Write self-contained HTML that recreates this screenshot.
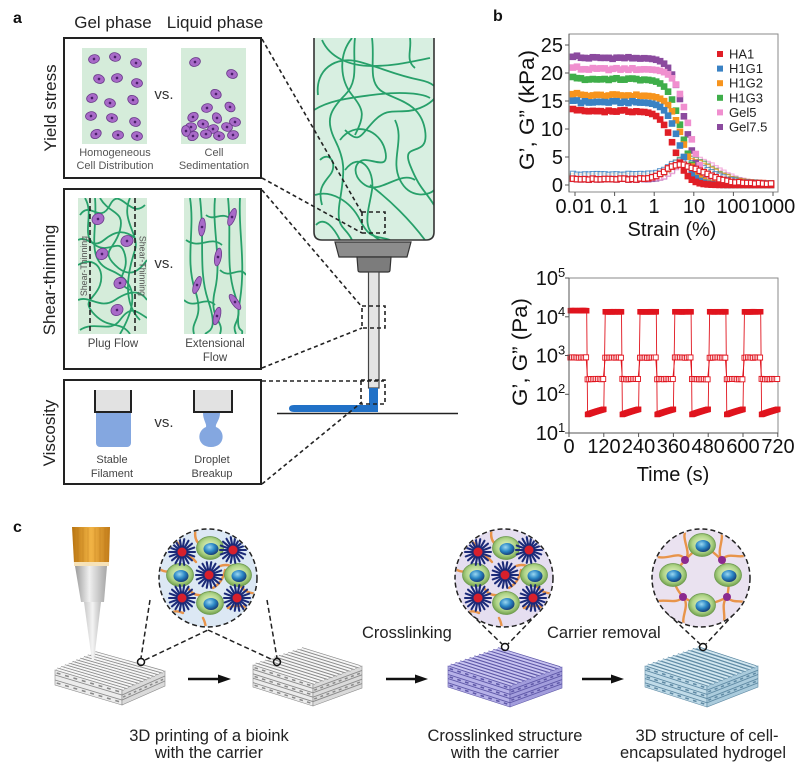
<!DOCTYPE html>
<html><head><meta charset="utf-8">
<style>
html,body{margin:0;padding:0;background:#fff;}
svg{display:block;font-family:"Liberation Sans",Arial,sans-serif;}
</style></head><body>
<svg id="s" width="803" height="768" viewBox="0 0 803 768" xmlns="http://www.w3.org/2000/svg">
<defs>
 <radialGradient id="cellG" cx="50%" cy="45%" r="55%"><stop offset="0" stop-color="#eef7cf"/><stop offset="0.65" stop-color="#afd488"/><stop offset="1" stop-color="#6f9f4a"/></radialGradient>
 <radialGradient id="nucG" cx="40%" cy="35%" r="65%"><stop offset="0" stop-color="#9ad8f2"/><stop offset="0.55" stop-color="#2a86c4"/><stop offset="1" stop-color="#173f7a"/></radialGradient>
 <linearGradient id="orangeG" x1="0" x2="1"><stop offset="0" stop-color="#b87410"/><stop offset="0.5" stop-color="#f2b445"/><stop offset="1" stop-color="#c07a18"/></linearGradient>
 <linearGradient id="greyG" x1="0" x2="1"><stop offset="0" stop-color="#9a9a9a"/><stop offset="0.45" stop-color="#f0f0f0"/><stop offset="1" stop-color="#a5a5a5"/></linearGradient>
 <linearGradient id="tipG" x1="0" x2="1"><stop offset="0" stop-color="#c8c8c8"/><stop offset="0.5" stop-color="#f4f4f4"/><stop offset="1" stop-color="#bdbdbd"/></linearGradient>
 <clipPath id="cc1"><circle cx="208" cy="578" r="48"/></clipPath>
 <clipPath id="cc2"><circle cx="504" cy="578" r="48"/></clipPath>
 <clipPath id="cc3"><circle cx="701" cy="578" r="48"/></clipPath>
 <clipPath id="syr"><path d="M314,38 L434,38 L434,232 Q434,240 426,240 L322,240 Q314,240 314,232 Z"/></clipPath>
 <clipPath id="b2l"><rect x="78" y="198" width="69" height="136"/></clipPath>
 <clipPath id="b2r"><rect x="184" y="198" width="62" height="136"/></clipPath>
</defs>
<rect width="803" height="768" fill="#fff"/>

<!-- ============ PANEL A ============ -->
<text x="13" y="23" font-size="16" font-weight="bold" fill="#111">a</text>
<text x="113" y="28" font-size="17" text-anchor="middle" fill="#222">Gel phase</text>
<text x="215" y="28" font-size="17" text-anchor="middle" fill="#222">Liquid phase</text>

<text transform="translate(56,108) rotate(-90)" font-size="17" text-anchor="middle" fill="#222">Yield stress</text>
<text transform="translate(55,280) rotate(-90)" font-size="17" text-anchor="middle" fill="#222">Shear-thinning</text>
<text transform="translate(55,433) rotate(-90)" font-size="17" text-anchor="middle" fill="#222">Viscosity</text>

<!-- box 1 -->
<rect x="64" y="38" width="197" height="140" fill="#fff" stroke="#222" stroke-width="2"/>
<rect x="82" y="48" width="65" height="96" fill="#d5ecda"/>
<rect x="181" y="48" width="65" height="96" fill="#d5ecda"/>
<g id="cells1"></g>
<text x="164" y="99" font-size="15" text-anchor="middle" fill="#333">vs.</text>
<text x="115" y="156" font-size="11" text-anchor="middle" fill="#555">Homogeneous</text>
<text x="115" y="169" font-size="11" text-anchor="middle" fill="#555">Cell Distribution</text>
<text x="214" y="156" font-size="11" text-anchor="middle" fill="#555">Cell</text>
<text x="214" y="169" font-size="11" text-anchor="middle" fill="#555">Sedimentation</text>

<!-- box 2 -->
<rect x="64" y="189" width="197" height="180" fill="#fff" stroke="#222" stroke-width="2"/>
<rect x="78" y="198" width="69" height="136" fill="#d5ecda"/>
<rect x="184" y="198" width="62" height="136" fill="#d5ecda"/>
<g clip-path="url(#b2l)" fill="none" stroke="#27a06a" stroke-width="1.8">
 <path d="M80,215 C90,200 100,225 110,205 S130,220 145,205"/>
 <path d="M85,198 C95,215 80,235 95,245 S120,235 125,255 S110,280 130,290"/>
 <path d="M78,265 C95,255 105,270 100,285 S80,300 95,315 S120,320 130,334"/>
 <path d="M100,198 C110,215 125,210 120,230 S100,250 115,265 S140,270 147,260"/>
 <path d="M78,300 C90,295 100,310 115,300 S140,290 147,300"/>
 <path d="M130,198 C120,220 140,235 135,250 S120,300 140,320"/>
 <path d="M80,330 C95,320 110,334 120,320 S135,310 147,318"/>
 <path d="M95,198 C98,230 85,260 110,270 S140,300 120,334"/>
 <path d="M78,240 C88,235 92,250 104,240 S125,230 135,238"/>
</g>
<g clip-path="url(#b2r)" fill="none" stroke="#27a06a" stroke-width="1.8">
 <path d="M190,198 C195,230 185,260 195,290 S190,320 194,334"/>
 <path d="M200,198 C205,240 198,270 208,300 S210,330 205,334"/>
 <path d="M215,198 C212,230 222,260 215,290 S225,320 220,334"/>
 <path d="M228,198 C232,235 225,265 235,295 S230,320 236,334"/>
 <path d="M240,198 C238,230 246,260 240,300 S244,325 242,334"/>
 <path d="M186,240 C200,250 210,235 222,245"/>
 <path d="M220,270 C230,280 240,265 246,275"/>
 <path d="M184,300 C195,310 205,295 215,305"/>
 <path d="M206,215 C214,222 222,210 232,220"/>
</g>
<line x1="90" y1="198" x2="90" y2="334" stroke="#222" stroke-width="1.6" stroke-dasharray="5,3"/>
<line x1="135" y1="198" x2="135" y2="334" stroke="#222" stroke-width="1.6" stroke-dasharray="5,3"/>
<g id="cells2"></g>
<text transform="translate(87,266) rotate(-90)" font-size="8.8" text-anchor="middle" fill="#555">Shear-Thinning</text>
<text transform="translate(139.5,266) rotate(90)" font-size="8.8" text-anchor="middle" fill="#555">Shear-Thinning</text>
<text x="164" y="268" font-size="15" text-anchor="middle" fill="#333">vs.</text>
<text x="113" y="347" font-size="11.5" text-anchor="middle" fill="#444">Plug Flow</text>
<text x="215" y="347" font-size="11.5" text-anchor="middle" fill="#444">Extensional</text>
<text x="215" y="361" font-size="11.5" text-anchor="middle" fill="#444">Flow</text>

<!-- box 3 -->
<rect x="64" y="380" width="197" height="104" fill="#fff" stroke="#222" stroke-width="2"/>
<rect x="96" y="411" width="35" height="36" rx="4" fill="#84a7e0"/>
<rect x="96" y="411" width="35" height="8" fill="#84a7e0"/>
<rect x="95" y="390" width="36" height="22" fill="#e2e2e2"/>
<path d="M95,390 L95,412 L131,412 L131,390" fill="none" stroke="#222" stroke-width="2"/>
<path d="M203,413 L220,413 C220,420 215,424 216,427 C226,431 225,447 211,447 C197,447 196,431 206,427 C207,424 203,420 203,413 Z" fill="#84a7e0"/>
<rect x="194" y="390" width="38" height="22" fill="#e2e2e2"/>
<path d="M194,390 L194,412 L232,412 L232,390" fill="none" stroke="#222" stroke-width="2"/>
<text x="164" y="427" font-size="15" text-anchor="middle" fill="#333">vs.</text>
<text x="112" y="463" font-size="11" text-anchor="middle" fill="#444">Stable</text>
<text x="112" y="477" font-size="11" text-anchor="middle" fill="#444">Filament</text>
<text x="212" y="463" font-size="11" text-anchor="middle" fill="#444">Droplet</text>
<text x="212" y="477" font-size="11" text-anchor="middle" fill="#444">Breakup</text>

<!-- syringe -->
<path d="M314,38 L434,38 L434,232 Q434,240 426,240 L322,240 Q314,240 314,232 Z" fill="#d8efe1"/>
<g clip-path="url(#syr)" fill="none" stroke="#27a06a" stroke-width="1.8">
 <path d="M322,40 C330,58 350,66 372,66 S410,62 430,58"/>
 <path d="M352,38 C338,55 340,80 352,95 S365,115 355,135"/>
 <path d="M318,95 C315,70 335,55 360,62 S395,75 420,80 S440,100 420,108 S390,105 375,120 S360,145 345,130"/>
 <path d="M314,110 C330,100 350,98 372,95 S420,92 430,98"/>
 <path d="M372,38 C375,60 368,80 380,90 S420,100 425,130 S400,140 410,165 S425,190 434,205"/>
 <path d="M355,38 C352,60 360,80 345,95 S325,120 335,140 S345,170 340,200 S345,225 352,240"/>
 <path d="M340,140 C355,120 380,130 385,150 S375,160 365,160 S350,175 365,185 S400,170 415,180"/>
 <path d="M345,170 C360,150 375,170 372,190 S360,230 380,240"/>
 <path d="M315,195 C330,190 350,200 360,220 S375,235 390,240"/>
 <path d="M370,185 C390,200 410,220 425,240"/>
 <path d="M316,225 C325,215 335,230 340,240"/>
 <path d="M395,120 C405,140 390,160 400,180 S430,195 434,190"/>
 <path d="M410,38 C412,50 405,60 415,68"/>
 <path d="M320,160 C330,150 338,165 330,175 S318,190 322,205"/>
</g>
<path d="M314,38 L314,232 Q314,240 322,240 L426,240 Q434,240 434,232 L434,38" fill="none" stroke="#333" stroke-width="1.6"/>
<polygon points="335,242 411,242 407,257 339,257" fill="#8c8c8c" stroke="#333" stroke-width="1.2"/>
<path d="M357,257 L391,257 L390,270 Q390,272 388,272 L360,272 Q358,272 358,270 Z" fill="#7c7c7c" stroke="#333" stroke-width="1.2"/>
<rect x="368.5" y="272" width="10.5" height="116" fill="#e4e4e4" stroke="#444" stroke-width="1.2"/>
<line x1="277" y1="413.5" x2="458" y2="413.5" stroke="#222" stroke-width="1.6"/>
<path d="M369,388 L378,388 L378,412 L294,412 Q289,412 289,408.5 Q289,405 294,405 L369,405 Z" fill="#2171c7"/>

<!-- dashed zoom boxes/lines -->
<g fill="none" stroke="#222" stroke-width="1.6" stroke-dasharray="4,3">
 <rect x="362" y="212" width="23" height="21"/>
 <rect x="362" y="306" width="23" height="22"/>
 <rect x="361" y="380" width="24" height="24"/>
 <line x1="262" y1="39" x2="362" y2="213"/>
 <line x1="262" y1="178" x2="362" y2="233"/>
 <line x1="262" y1="190" x2="362" y2="307"/>
 <line x1="262" y1="368" x2="362" y2="328"/>
 <line x1="262" y1="381" x2="384" y2="381"/>
 <line x1="262" y1="484" x2="362" y2="402"/>
</g>

<!-- ============ PANEL B ============ -->
<text x="493" y="21" font-size="16" font-weight="bold" fill="#111">b</text>
<rect x="569" y="34" width="209" height="158" fill="#fff" stroke="#8a8a8a" stroke-width="1"/>
<g id="ch1"></g>
<line x1="569" y1="34" x2="569" y2="192" stroke="#555" stroke-width="1"/>
<g stroke="#555" stroke-width="1">
 <line x1="565" y1="185" x2="569" y2="185"/><line x1="565" y1="157" x2="569" y2="157"/>
 <line x1="565" y1="129" x2="569" y2="129"/><line x1="565" y1="101" x2="569" y2="101"/>
 <line x1="565" y1="73" x2="569" y2="73"/><line x1="565" y1="45" x2="569" y2="45"/>
 <line x1="575" y1="192" x2="575" y2="196"/><line x1="614.6" y1="192" x2="614.6" y2="196"/>
 <line x1="654.2" y1="192" x2="654.2" y2="196"/><line x1="693.8" y1="192" x2="693.8" y2="196"/>
 <line x1="733.4" y1="192" x2="733.4" y2="196"/><line x1="773" y1="192" x2="773" y2="196"/>
</g>
<g font-size="20" fill="#111" text-anchor="end">
 <text x="563" y="192">0</text><text x="563" y="164">5</text><text x="563" y="136">10</text>
 <text x="563" y="108">15</text><text x="563" y="80">20</text><text x="563" y="52">25</text>
</g>
<g font-size="20" fill="#111" text-anchor="middle">
 <text x="575" y="213">0.01</text><text x="614" y="213">0.1</text><text x="654" y="213">1</text>
 <text x="694" y="213">10</text><text x="733" y="213">100</text><text x="773" y="213">1000</text>
</g>
<text x="672" y="236" font-size="20" text-anchor="middle" fill="#111">Strain (%)</text>
<text transform="translate(534,110) rotate(-90)" font-size="21" text-anchor="middle" fill="#111" textLength="120" lengthAdjust="spacingAndGlyphs">G’, G” (kPa)</text>
<g font-size="13" fill="#222">
 <rect x="717" y="51" width="6" height="6" fill="#e01e26"/><text x="729" y="58.5">HA1</text>
 <rect x="717" y="65.6" width="6" height="6" fill="#3a82c4"/><text x="729" y="73.1">H1G1</text>
 <rect x="717" y="80.2" width="6" height="6" fill="#f7941d"/><text x="729" y="87.7">H1G2</text>
 <rect x="717" y="94.8" width="6" height="6" fill="#3fae4a"/><text x="729" y="102.3">H1G3</text>
 <rect x="717" y="109.4" width="6" height="6" fill="#f08fcf"/><text x="729" y="116.9">Gel5</text>
 <rect x="717" y="124" width="6" height="6" fill="#8b4a9e"/><text x="729" y="131.5">Gel7.5</text>
</g>

<rect x="569" y="278" width="209" height="155" fill="#fff" stroke="#8a8a8a" stroke-width="1"/>
<g id="ch2"></g>
<line x1="569" y1="278" x2="569" y2="433" stroke="#555" stroke-width="1"/>
<line x1="569" y1="433" x2="778" y2="433" stroke="#555" stroke-width="1"/>
<g stroke="#555" stroke-width="1">
 <line x1="565" y1="278" x2="569" y2="278"/><line x1="565" y1="316.8" x2="569" y2="316.8"/>
 <line x1="565" y1="355.5" x2="569" y2="355.5"/><line x1="565" y1="394.3" x2="569" y2="394.3"/>
 <line x1="565" y1="433" x2="569" y2="433"/>
 <line x1="569" y1="433" x2="569" y2="437"/><line x1="603.8" y1="433" x2="603.8" y2="437"/>
 <line x1="638.6" y1="433" x2="638.6" y2="437"/><line x1="673.4" y1="433" x2="673.4" y2="437"/>
 <line x1="708.2" y1="433" x2="708.2" y2="437"/><line x1="743" y1="433" x2="743" y2="437"/>
 <line x1="777.8" y1="433" x2="777.8" y2="437"/>
</g>
<g font-size="20" fill="#111" text-anchor="end">
 <text x="558" y="285">10</text><text x="558" y="324">10</text><text x="558" y="362.5">10</text>
 <text x="558" y="401">10</text><text x="558" y="440">10</text>
</g>
<g font-size="13" fill="#111">
 <text x="558" y="277">5</text><text x="558" y="316">4</text><text x="558" y="354.5">3</text>
 <text x="558" y="393">2</text><text x="558" y="432">1</text>
</g>
<g font-size="20" fill="#111" text-anchor="middle">
 <text x="569" y="453">0</text><text x="604" y="453">120</text><text x="638.6" y="453">240</text>
 <text x="673.4" y="453">360</text><text x="708.2" y="453">480</text><text x="743" y="453">600</text>
 <text x="778" y="453">720</text>
</g>
<text x="673" y="481" font-size="20" text-anchor="middle" fill="#111">Time (s)</text>
<text transform="translate(527,352) rotate(-90)" font-size="21" text-anchor="middle" fill="#111" textLength="108" lengthAdjust="spacingAndGlyphs">G’, G” (Pa)</text>

<!-- ============ PANEL C ============ -->
<text x="13" y="532" font-size="16" font-weight="bold" fill="#111">c</text>
<g id="scaf"></g>
<!-- nozzle -->
<path d="M72,527 L110,527 L109,563 L74,563 Z" fill="url(#orangeG)"/>
<g stroke="#a8650c" stroke-width="0.5" opacity="0.5">
 <line x1="78" y1="528" x2="78" y2="562"/><line x1="83" y1="528" x2="83" y2="562"/><line x1="88" y1="528" x2="88" y2="562"/>
 <line x1="95" y1="528" x2="95" y2="562"/><line x1="100" y1="528" x2="100" y2="562"/><line x1="105" y1="528" x2="105" y2="562"/>
</g>
<rect x="74" y="562" width="35" height="4" fill="#f6e2b8"/>
<path d="M75,566 L107,566 L104,602 L81,602 Z" fill="url(#greyG)"/>
<path d="M84,602 L101,602 L94,661 L92,661 Z" fill="url(#tipG)"/>

<!-- arrows -->
<g stroke="#111" stroke-width="2.6">
 <line x1="188" y1="679" x2="220" y2="679"/>
 <line x1="386" y1="679" x2="417" y2="679"/>
 <line x1="582" y1="679" x2="613" y2="679"/>
</g>
<g fill="#111">
 <polygon points="218,674.5 231,679 218,683.5"/>
 <polygon points="415,674.5 428,679 415,683.5"/>
 <polygon points="611,674.5 624,679 611,683.5"/>
</g>

<!-- circle dashed leaders -->
<g fill="none" stroke="#222" stroke-width="1.5" stroke-dasharray="5,3">
 <line x1="150" y1="600" x2="141" y2="658"/>
 <line x1="267" y1="600" x2="277" y2="658"/>
 <line x1="145" y1="660" x2="208" y2="630"/>
 <line x1="208" y1="630" x2="273" y2="660"/>
 <line x1="471" y1="614" x2="502" y2="644"/>
 <line x1="537" y1="614" x2="508" y2="644"/>
 <line x1="668" y1="614" x2="700" y2="644"/>
 <line x1="734" y1="614" x2="706" y2="644"/>
</g>
<circle cx="208" cy="578" r="49" fill="#dce8f4"/>
<circle cx="504" cy="578" r="49" fill="#e5def0"/>
<circle cx="701" cy="578" r="49" fill="#eae2f0"/>
<g id="cir1" clip-path="url(#cc1)"></g>
<g id="cir2" clip-path="url(#cc2)"></g>
<g id="cir3" clip-path="url(#cc3)"></g>
<g fill="none" stroke="#222" stroke-width="1.5" stroke-dasharray="5,3">
 <circle cx="208" cy="578" r="49"/>
 <circle cx="504" cy="578" r="49"/>
 <circle cx="701" cy="578" r="49"/>
</g>
<g fill="none" stroke="#111" stroke-width="1.5">
 <circle cx="141" cy="662" r="3.5"/><circle cx="277" cy="662" r="3.5"/>
 <circle cx="505" cy="647" r="3.5"/><circle cx="703" cy="647" r="3.5"/>
</g>

<text x="362" y="638" font-size="16.5" fill="#222">Crosslinking</text>
<text x="547" y="638" font-size="16.5" fill="#222">Carrier removal</text>
<g font-size="16.5" fill="#222" text-anchor="middle">
 <text x="209" y="741">3D printing of a bioink</text>
 <text x="209" y="758">with the carrier</text>
 <text x="505" y="741">Crosslinked structure</text>
 <text x="505" y="758">with the carrier</text>
 <text x="707" y="741">3D structure of cell-</text>
 <text x="703" y="758">encapsulated hydrogel</text>
</g>
</svg>

<script>
(function(){
const NS="http://www.w3.org/2000/svg";
function E(tag,a,p){const e=document.createElementNS(NS,tag);for(const k in a)e.setAttribute(k,a[k]);p.appendChild(e);return e;}
function rnd(i){const x=Math.sin(i*12.9898+78.233)*43758.5453;return x-Math.floor(x);}
const $=id=>document.getElementById(id);

/* ---- panel a cells ---- */
const c1=$('cells1');
function pcell(g,x,y,rot,rx,ry){const gg=E('g',{transform:'translate('+x+','+y+') rotate('+rot+')'},g);
 E('ellipse',{cx:0,cy:0,rx:rx,ry:ry,fill:'#a86ac8',stroke:'#6a3a8a','stroke-width':0.8},gg);
 E('circle',{cx:0,cy:0,r:1.3,fill:'#4a1f6a'},gg);}
[[94,59,-15],[115,57,10],[136,63,15],[99,79,20],[117,78,-10],[137,83,10],[92,98,-20],[110,103,15],[133,100,30],[91,116,-10],[112,118,10],[135,122,20],[96,134,-30],[118,135,0],[137,136,10]].forEach(c=>pcell(c1,c[0],c[1],c[2],5.5,4.3));
[[195,62,-20],[232,74,20],[216,94,30],[207,108,-15],[230,107,40],[193,117,-30],[203,124,10],[217,118,60],[235,122,10],[191,127,0],[213,129,-10],[227,127,15],[193,136,-30],[206,134,0],[219,136,10],[233,135,-10],[186,131,80]].forEach(c=>pcell(c1,c[0],c[1],c[2],5.5,4.3));
const c2=$('cells2');
[[98,219,-30],[127,241,-20],[102,254,-35],[120,283,-25],[117,310,-30]].forEach(c=>pcell(c2,c[0],c[1],c[2],6.2,5.4));
[[202,227,5],[232,217,20],[218,257,10],[197,285,20],[235,302,-35],[217,316,15]].forEach(c=>pcell(c2,c[0],c[1],c[2],3.3,9));

/* ---- chart 1 ---- */
const g1=$('ch1');
const X1=s=>575+(Math.log10(s)+2)*39.6, Y1=v=>185-v*5.6;
const ser=[
 {c:'#8b4a9e',G:22.7,sc:6.0,b:1.0,p:4.6,sp:7},
 {c:'#f08fcf',G:20.7,sc:7.5,b:1.2,p:4.8,sp:8},
 {c:'#3fae4a',G:18.9,sc:5.0,b:1.5,p:4.8,sp:6},
 {c:'#f7941d',G:16.0,sc:5.2,b:1.6,p:4.5,sp:6},
 {c:'#3a82c4',G:14.8,sc:4.3,b:1.9,p:4.3,sp:5},
 {c:'#e01e26',G:13.2,sc:3.2,b:1.05,p:3.6,sp:4}];
const lss=[];for(let l=-2.05;l<=3.03;l+=0.1)lss.push(l);
function Gp(o,s,i){let v=o.G/(1+Math.pow(s/o.sc,2.5));if(s<0.5)v+= (rnd(i)-0.5)*0.35+(s<0.012?0.3:0);return Math.max(v,0.02);}
function Gpp(o,s,i){const ls=Math.log10(s),lp=Math.log10(o.sp);let v;
 if(ls<lp)v=o.b+(o.p-o.b)*Math.exp(-Math.pow((ls-lp)/0.45,2));else v=0.25+(o.p-0.25)*Math.exp(-Math.pow((ls-lp)/0.9,2));
 return v+(rnd(i+50)-0.5)*0.2;}
function sq(g,x,y,sz,fill,stroke,sw,op){const a={x:(x-sz/2).toFixed(2),y:(y-sz/2).toFixed(2),width:sz,height:sz,fill:fill};if(stroke){a.stroke=stroke;a['stroke-width']=sw;}if(op)a.opacity=op;E('rect',a,g);}
ser.slice(0,5).forEach((o,k)=>{lss.forEach((l,i)=>{const s=Math.pow(10,l);sq(g1,X1(s),Y1(Gpp(o,s,i+k*7)),5.2,'#fff',o.c,1.1,0.75);});});
ser.forEach((o,k)=>{lss.forEach((l,i)=>{const s=Math.pow(10,l);sq(g1,X1(s),Y1(Gp(o,s,i+k*13)),6.6,o.c);});});
lss.forEach((l,i)=>{const s=Math.pow(10,l);sq(g1,X1(s),Y1(Gpp(ser[5],s,i)),5.4,'#fff','#e01e26',1.2);});

/* ---- chart 2 ---- */
const g2=$('ch2');const red='#e0141e';
const X2=t=>569+t*34.8/120, Y2=v=>433-(Math.log10(v)-1)*38.8;
const gp=[],gpp=[];
for(let k=0;k<6;k++){
 for(let t=120*k+5;t<=120*k+62;t+=2){gp.push([t,(k==0?1.42e4:1.33e4)*(1+0.01*(rnd(t)-0.5))]);}
 for(let t=120*k+5;t<=120*k+62;t+=6){gpp.push([t,880*(1+0.03*(rnd(t+3)-0.5))]);}
 for(let t=120*k+64;t<=Math.min(120*k+121,720);t+=2){const f=(t-120*k-64)/57;gp.push([t,30+11*f]);}
 for(let t=120*k+64;t<=Math.min(120*k+121,720);t+=6){gpp.push([t,245*(1+0.03*(rnd(t+9)-0.5))]);}
}
E('polyline',{points:gp.map(p=>X2(p[0]).toFixed(2)+','+Y2(p[1]).toFixed(2)).join(' '),fill:'none',stroke:red,'stroke-width':0.9},g2);
E('polyline',{points:gpp.map(p=>X2(p[0]).toFixed(2)+','+Y2(p[1]).toFixed(2)).join(' '),fill:'none',stroke:red,'stroke-width':0.9},g2);
gpp.forEach(p=>sq(g2,X2(p[0]),Y2(p[1]),5,'#fff',red,0.9));
gp.forEach(p=>sq(g2,X2(p[0]),Y2(p[1]),5.5,red));

/* ---- scaffolds ---- */
const sg=$('scaf');
function scaffold(A,B,C,D,h,n,col){
 const g=E('g',{},sg);
 const P=(p,dy)=>p[0]+','+(p[1]+dy);
 E('polygon',{points:[P(A,0),P(D,0),P(D,h),P(A,h)].join(' '),fill:col.s1,stroke:col.dk,'stroke-width':0.6},g);
 E('polygon',{points:[P(D,0),P(C,0),P(C,h),P(D,h)].join(' '),fill:col.s2,stroke:col.dk,'stroke-width':0.6},g);
 for(let i=1;i<n;i++){const dy=i*h/n;E('polyline',{points:[P(A,dy),P(D,dy),P(C,dy)].join(' '),fill:'none',stroke:col.dk,'stroke-width':0.9},g);}
 for(let i=0;i<n;i++){const dy=(i+0.5)*h/n;
  [[A,D],[D,C]].forEach((uv,f)=>{const U=uv[0],V=uv[1];if((i+f)%2)return;
   const m=8;for(let j=0;j<m;j++){const t0=(j+0.2)/m,t1=(j+0.65)/m;
    E('line',{x1:U[0]+(V[0]-U[0])*t0,y1:U[1]+(V[1]-U[1])*t0+dy,x2:U[0]+(V[0]-U[0])*t1,y2:U[1]+(V[1]-U[1])*t1+dy,stroke:col.dk,'stroke-width':1.5},g);}
  });}
 E('polygon',{points:[P(A,0),P(B,0),P(C,0),P(D,0)].join(' '),fill:col.top},g);
 const k=11;for(let j=0;j<k;j++){const t=(j+0.5)/k;
  const x1=A[0]+(B[0]-A[0])*t,y1=A[1]+(B[1]-A[1])*t,x2=D[0]+(C[0]-D[0])*t,y2=D[1]+(C[1]-D[1])*t;
  E('line',{x1:x1,y1:y1,x2:x2,y2:y2,stroke:col.dk,'stroke-width':3.3},g);
  E('line',{x1:x1,y1:y1,x2:x2,y2:y2,stroke:col.rod,'stroke-width':1.9},g);}
}
const grey={top:'#b8b8b8',rod:'#f6f6f6',dk:'#8a8a8a',s1:'#ececec',s2:'#dadada'};
scaffold([55,670],[97,652],[165,671],[122,690],15,3,grey);
scaffold([253,665],[304,648],[362,666],[313,684],22,5,grey);
scaffold([448,666],[500,648],[562,667],[510,686],21,5,{top:'#8a84cc',rod:'#c8c4f0',dk:'#5f58a8',s1:'#b6b1e8',s2:'#a29ddc'});
scaffold([645,666],[700,647],[758,666],[707,686],21,5,{top:'#89b0c6',rod:'#d2e7f0',dk:'#5f8aa4',s1:'#c0dbe8',s2:'#aacbdc'});

/* ---- circle contents ---- */
function cell(g,x,y){E('ellipse',{cx:x,cy:y,rx:13.5,ry:11.5,fill:'url(#cellG)',stroke:'#6d9a50','stroke-width':0.8},g);E('ellipse',{cx:x+1,cy:y+1,rx:7.5,ry:6,fill:'url(#nucG)'},g);}
function star(g,x,y){for(let i=0;i<18;i++){const a=i*Math.PI*2/18;E('line',{x1:x+Math.cos(a)*3,y1:y+Math.sin(a)*3,x2:x+Math.cos(a)*13,y2:y+Math.sin(a)*13,stroke:'#1b2a78','stroke-width':2.1,'stroke-linecap':'round'},g);}E('circle',{cx:x,cy:y,r:4.5,fill:'#d8202c'},g);}
function orange(g,d){E('path',{d:d,fill:'none',stroke:'#e8944a','stroke-width':2.4,'stroke-linecap':'round'},g);}
function carrierCircle(id,cx,cy){const g=$(id);
 const segs=['M-50,-10 q10,8 22,-2','M-12,-50 q-4,15 10,20','M12,-12 q12,-4 18,8','M-20,10 q8,12 22,4','M20,30 q12,-6 28,4','M-45,40 q10,-10 20,-5','M-5,40 q5,10 0,15','M35,-35 q10,8 15,20','M-40,-40 q12,2 14,14','M5,10 q10,-6 12,-18','M-30,-20 q10,-6 18,4','M30,5 q8,12 20,10'];
 segs.forEach(s=>orange(g,'M'+(cx+parseFloat(s.slice(1).split(',')[0]))+','+(cy+parseFloat(s.split(',')[1].split(' ')[0]))+' '+s.split(' ').slice(1).join(' ')));
 [[2,-30],[-28,-3],[30,-3],[2,25]].forEach(p=>cell(g,cx+p[0],cy+p[1]));
 [[-26,-26],[25,-28],[1,-3],[-26,20],[29,20]].forEach(p=>star(g,cx+p[0],cy+p[1]));}
carrierCircle('cir1',208,578);
carrierCircle('cir2',504,578);
(function(){const g=$('cir3'),cx=701,cy=578;
 const dots=[[-16,-18],[21,-18],[-18,19],[26,19]];
 const paths=[
  'M-16,-18 C-22,-30 -35,-14 -50,-24','M-16,-18 C-8,-26 -22,-40 -14,-50','M-16,-18 C-10,-24 -4,-30 1,-33','M-16,-18 C-22,-10 -26,-8 -28,-3',
  'M21,-18 C28,-28 40,-16 50,-26','M21,-18 C14,-28 26,-40 18,-50','M21,-18 C14,-24 8,-30 1,-33','M21,-18 C26,-10 28,-8 27,-3',
  'M-18,19 C-26,28 -38,18 -50,26','M-18,19 C-10,28 -22,40 -16,50','M-18,19 C-24,12 -27,6 -28,-3','M-18,19 C-10,24 -4,26 1,27',
  'M26,19 C34,28 42,18 50,30','M26,19 C18,28 28,40 20,50','M26,19 C28,10 28,5 27,-3','M26,19 C18,24 8,26 1,27'];
 paths.forEach(d=>{const pts=d.replace(/[MC]/g,'').trim().split(/\s+/).map(p=>p.split(',').map(Number));
  const abs=pts.map(p=>(cx+p[0])+','+(cy+p[1]));orange(g,'M'+abs[0]+' C'+abs.slice(1).join(' '));});
 [[1,-33],[-28,-3],[27,-3],[1,27]].forEach(p=>cell(g,cx+p[0],cy+p[1]));
 dots.forEach(p=>E('circle',{cx:cx+p[0],cy:cy+p[1],r:4,fill:'#8b2a8f'},g));
})();
})();
</script>
</body></html>
